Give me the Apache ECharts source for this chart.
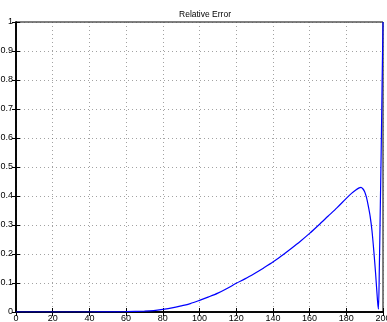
<!DOCTYPE html>
<html>
<head>
<meta charset="utf-8">
<script src="https://cdn.jsdelivr.net/npm/echarts@6/dist/echarts.min.js"></script>
<style>
  html, body { margin: 0; padding: 0; background: #fff; }
  #chart { width: 387px; height: 322px; }
</style>
</head>
<body>
<div id="chart"></div>
<script>
// values
const xs = [0, 10, 20, 30, 40, 50, 60, 70, 75, 80, 85, 90, 95, 100, 105, 110, 115, 120,
  125, 130, 135, 140, 145, 150, 155, 160, 165, 170, 175, 180, 183, 185, 187, 188, 189,
  190, 191, 192, 193, 194, 195, 196, 197, 197.5, 198, 198.5, 199, 199.5, 200];
const relErr = [0, 0, 0, 0, 0, 0.0003, 0.001, 0.003, 0.005, 0.009, 0.014, 0.021, 0.029, 0.04,
  0.052, 0.065, 0.081, 0.099, 0.115, 0.133, 0.152, 0.172, 0.195, 0.219, 0.244, 0.271,
  0.3, 0.33, 0.36, 0.392, 0.41, 0.42, 0.428, 0.43, 0.425, 0.415, 0.395, 0.365, 0.33,
  0.28, 0.21, 0.13, 0.04, 0.01, 0.15, 0.35, 0.55, 0.78, 1];
const xTicks = [0, 20, 40, 60, 80, 100, 120, 140, 160, 180, 200];
const yTicks = [0, 0.1, 0.2, 0.3, 0.4, 0.5, 0.6, 0.7, 0.8, 0.9, 1];

const font = { fontFamily: "Liberation Sans, Arial, sans-serif", fontSize: 9, color: "#000" };
const dotted = { color: "#555", type: [1, 3], width: 1, opacity: 0.55 };
const tick = { show: true, inside: true, length: 4, lineStyle: { color: "#000" } };

const chart = echarts.init(document.getElementById("chart"));
chart.setOption({
  animation: false,
  title: {
    text: "Relative Error",
    left: 200,
    top: 5,
    textAlign: "center",
    textStyle: { ...font, fontWeight: "normal", fontSize: 8.5 },
  },
  grid: {
    left: 16, right: 4, top: 22, bottom: 10,
    outerBoundsMode: "none", containLabel: false,
    show: true, borderColor: "#000", borderWidth: 1,
  },
  xAxis: [
    {
      type: "value", min: 0, max: 200, interval: 20,
      axisLine: { show: true, lineStyle: { color: "#000", width: 1.5 } },
      axisTick: tick,
      axisLabel: { ...font, margin: 2, formatter: (v) => xTicks.includes(v) ? String(v) : "" },
      splitLine: { show: true, lineStyle: dotted },
    },
    {
      type: "value", min: 0, max: 200, interval: 20, position: "top",
      axisLine: { show: true, lineStyle: { color: "#000", width: 1.5 } },
      axisTick: tick, axisLabel: { show: false }, splitLine: { show: false },
    },
  ],
  yAxis: [
    {
      type: "value", min: 0, max: 1, interval: 0.1,
      axisLine: { show: true, lineStyle: { color: "#000", width: 1.5 } },
      axisTick: tick,
      axisLabel: { ...font, margin: 3, formatter: (v) => yTicks.includes(Math.round(v * 10) / 10) ? String(Math.round(v * 10) / 10) : "" },
      splitLine: { show: true, lineStyle: dotted },
    },
    {
      type: "value", min: 0, max: 1, interval: 0.1, position: "right",
      axisLine: { show: true, lineStyle: { color: "#000", width: 1.5 } },
      axisTick: tick, axisLabel: { show: false }, splitLine: { show: false },
    },
  ],
  series: [
    {
      type: "line",
      data: xs.map((x, i) => [x, relErr[i]]),
      showSymbol: false,
      smooth: 0.3,
      lineStyle: { color: "#0000ff", width: 1.2 },
    },
  ],
});
</script>
</body>
</html>
